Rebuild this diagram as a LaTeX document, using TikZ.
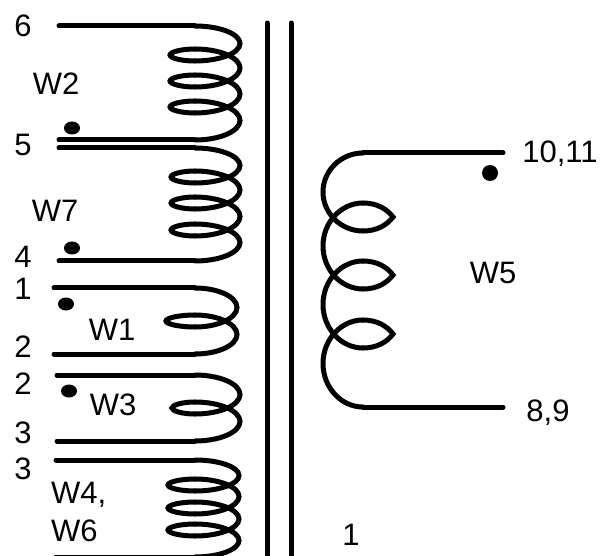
\documentclass[tikz,border=0pt]{standalone}
\usepackage{fontspec}
\setmainfont{Liberation Sans}

\tikzset{
  wire/.style={line width=5pt,line cap=round},
  lbl/.style={inner sep=0pt,font=\fontsize{31}{34}\selectfont},
}

% half turn, bulging out to x = #2 between y = #3 and y = #4
\newcommand{\bulge}[4]{
  \pgfmathsetmacro{\ymid}{(#3+#4)/2}
  \draw[wire] (#1,{#3}) .. controls ({#1+.55*(#2-#1)},{#3}) and (#2,{\ymid-.55*(\ymid-(#3))}) .. (#2,\ymid)
    .. controls (#2,{\ymid+.55*(#4-\ymid)}) and ({#1+.55*(#2-#1)},{#4}) .. (#1,{#4});
}
% start x, tip x, peak x, top y, bottom y, turns, last turn
\newcommand{\coil}[7]{
  \draw[wire] (#1,#4) -- (195,#4);
  \draw[wire] (#1,#5) -- (195,#5);
  \foreach \y [remember=\y as \prev (initially {#4+6})] in {#6} {
    \bulge{195}{#3}{\prev-6}{\y+6}
    \draw[wire] (195,\y+6) .. controls ({195-.55*(195-#2)},\y+6) and (#2,\y+3) .. (#2,\y)
      .. controls (#2,\y-3) and ({195-.55*(195-#2)},\y-6) .. (195,\y-6);
  }
  \bulge{195}{#3}{#7-6}{#5}
}

\begin{document}
\begin{tikzpicture}[x=1pt,y=-1pt]
\useasboundingbox (0,0) rectangle (600,556);

% core
\coordinate (coreAtop) at (267,23);
\coordinate (coreAbot) at (267,562);
\coordinate (coreBtop) at (291,23);
\coordinate (coreBbot) at (291,562);
\draw[wire] (coreAtop) -- (coreAbot);
\draw[wire] (coreBtop) -- (coreBbot);

% left windings
\coil{59}{170}{240}{26}{140}{55,81,107}{107} % W2
\coil{59}{171}{240}{148}{261}{177,203,230}{230} % W7
\coil{54}{166}{237}{288}{354}{321}{321} % W1
\coil{57}{172}{240}{375}{441}{408}{408} % W3
\coil{56}{168}{239}{460}{557}{485,508,530}{530} % W4, W6

% right winding
\draw[wire] (503,153) -- (363,153);
\draw[wire] (503,407) -- (363,407);
\bulge{363}{323}{153}{231}
\bulge{363}{323}{203}{289}
\bulge{363}{323}{261}{348}
\bulge{363}{323}{320}{407}
\foreach \y in {217,275,334} {
  \draw[wire] (363,\y+14) .. controls (377,\y+14) and (387,\y+8) .. (393,\y)
    .. controls (387,\y-8) and (377,\y-14) .. (363,\y-14);
}

% dots
\fill (72,128) ellipse (8 and 6.5);
\fill (72,248) ellipse (8 and 6.5);
\fill (66,304) ellipse (8 and 6.5);
\fill (69,391) ellipse (8 and 6.5);
\fill (490,173) circle (8);

% labels
\node[lbl] (pinSix) at (23,26) {6};
\node[lbl] (pinFive) at (23,145) {5};
\node[lbl] (pinFour) at (23,257) {4};
\node[lbl] (pinOne) at (23,289) {1};
\node[lbl] (pinTwoA) at (23,347) {2};
\node[lbl] (pinTwoB) at (23,384) {2};
\node[lbl] (pinThreeA) at (23,433) {3};
\node[lbl] (pinThreeB) at (23,469) {3};
\node[lbl] (nameWtwo) at (56,84) {W2};
\node[lbl] (nameWseven) at (55,211) {W7};
\node[lbl] (nameWone) at (112,330) {W1};
\node[lbl] (nameWthree) at (113,405) {W3};
\node[lbl,anchor=base west] (nameWfour) at (51,503) {W4,};
\node[lbl,anchor=base west] (nameWsix) at (51,541) {W6};
\node[lbl] (nameWfive) at (493,273) {W5};
\node[lbl,anchor=base] (pinTen) at (560,163) {10,11};
\node[lbl,anchor=base] (pinEight) at (548,421) {8,9};
\node[lbl] (ratio) at (351,535) {1};
\end{tikzpicture}
\end{document}
